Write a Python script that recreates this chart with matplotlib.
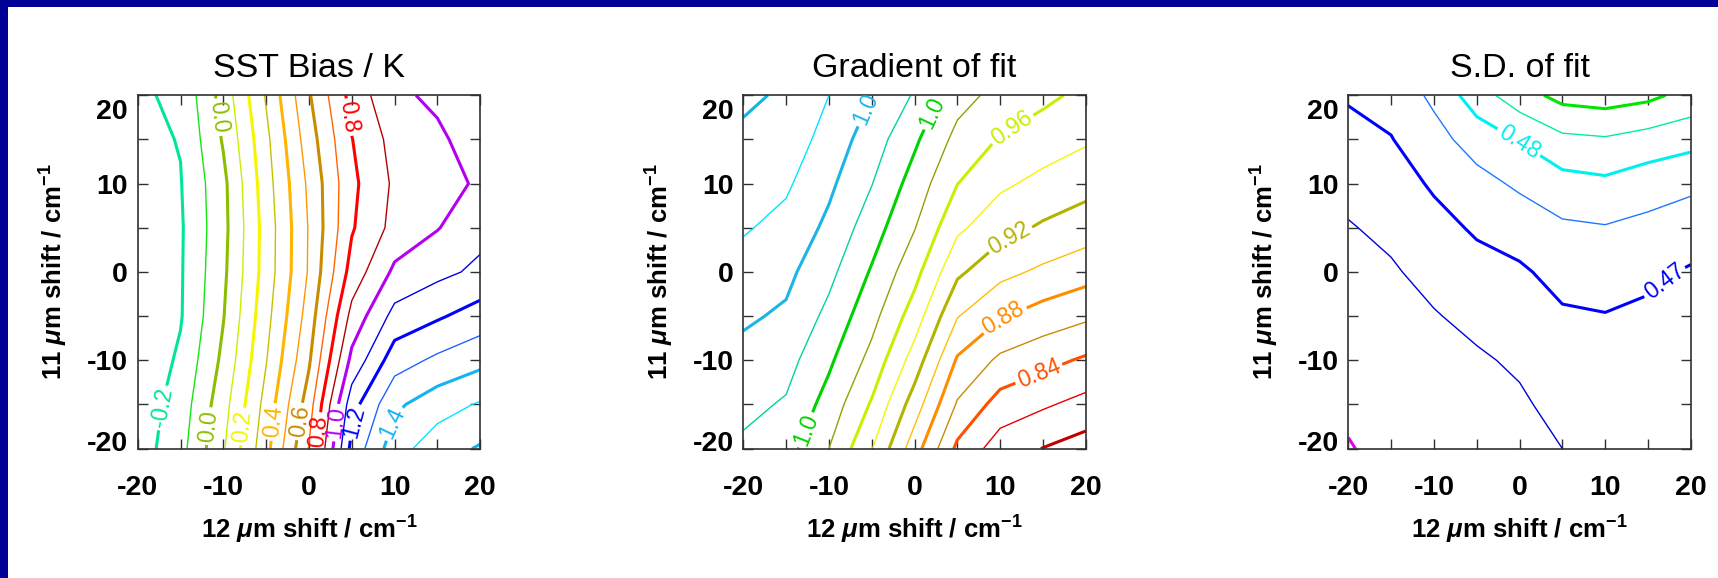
import matplotlib
matplotlib.use("Agg")
import numpy as np
import matplotlib.pyplot as plt
import matplotlib.transforms as mtransforms
from matplotlib.patches import Rectangle

plt.rcParams['font.family'] = 'Liberation Sans'
plt.rcParams['axes.unicode_minus'] = False
plt.rcParams['mathtext.fontset'] = 'custom'
plt.rcParams['mathtext.rm'] = 'Liberation Sans:bold'
plt.rcParams['mathtext.it'] = 'Liberation Sans:italic:bold'

# channel shifts in cm^-1 (grid of the retrieval runs)
shift_12 = [-20, -15, -10, -5, 0, 5, 10, 15, 20]
shift_11 = [-20, -15, -10, -5, 0, 5, 10, 15, 20]

# one row per 11um shift (from -20 up to +20), one column per 12um shift
sst_bias = [
    [-0.25, -0.134, 0.089, 0.367, 0.706, 1.231, 1.457, 1.557, 1.61],
    [-0.26, -0.155, 0.061, 0.335, 0.650, 1.160, 1.380, 1.456, 1.51],
    [-0.28, -0.183, 0.023, 0.295, 0.586, 1.028, 1.255, 1.320, 1.37],
    [-0.26, -0.208, -0.005, 0.267, 0.543, 0.932, 1.133, 1.187, 1.245],
    [-0.26, -0.210, -0.021, 0.245, 0.510, 0.840, 1.020, 1.075, 1.12],
    [-0.26, -0.212, -0.030, 0.242, 0.507, 0.790, 0.932, 0.995, 1.07],
    [-0.25, -0.205, -0.025, 0.257, 0.520, 0.777, 0.917, 0.960, 1.015],
    [-0.23, -0.195, 0.010, 0.276, 0.553, 0.797, 0.936, 0.985, 1.04],
    [-0.215, -0.180, 0.040, 0.310, 0.590, 0.834, 0.984, 1.016, 1.04],
]

fit_gradient = [
    [1.0165, 1.008, 0.980, 0.941, 0.889, 0.8356, 0.810, 0.7995, 0.791],
    [1.025, 1.018, 0.992, 0.9578, 0.9102, 0.8578, 0.8317, 0.8227, 0.8136],
    [1.034, 1.027, 1.0036, 0.9737, 0.9312, 0.8776, 0.8559, 0.8463, 0.8371],
    [1.043, 1.037, 1.0147, 0.9867, 0.9504, 0.901, 0.8819, 0.8714, 0.8635],
    [1.052, 1.045, 1.0253, 0.998, 0.9667, 0.9238, 0.9056, 0.8962, 0.8881],
    [1.062, 1.054, 1.0355, 1.0093, 0.9809, 0.9439, 0.9273, 0.9172, 0.9096],
    [1.069, 1.063, 1.044, 1.0206, 0.9917, 0.9603, 0.9436, 0.9346, 0.927],
    [1.076, 1.072, 1.052, 1.030, 1.0035, 0.974, 0.9585, 0.950, 0.9425],
    [1.084, 1.077, 1.060, 1.040, 1.018, 0.9877, 0.9734, 0.9647, 0.955],
]

fit_sd = [
    [0.4598, 0.4610, 0.4620, 0.4630, 0.4640, 0.4650, 0.4662, 0.4658, 0.4655],
    [0.4606, 0.4616, 0.4626, 0.4636, 0.4643, 0.4665, 0.4673, 0.4669, 0.4663],
    [0.4614, 0.4624, 0.4634, 0.4644, 0.4657, 0.4679, 0.4685, 0.4680, 0.4672],
    [0.4627, 0.4637, 0.4647, 0.4662, 0.4675, 0.4694, 0.4698, 0.4691, 0.4680],
    [0.4635, 0.4645, 0.4664, 0.4684, 0.4693, 0.4716, 0.4722, 0.4710, 0.4695],
    [0.4647, 0.4660, 0.4685, 0.4706, 0.4722, 0.4742, 0.4747, 0.4737, 0.4725],
    [0.4663, 0.4679, 0.4706, 0.4734, 0.4758, 0.4782, 0.4790, 0.4773, 0.4760],
    [0.4684, 0.4698, 0.4733, 0.4771, 0.4803, 0.4839, 0.4845, 0.4830, 0.4816],
    [0.4705, 0.4718, 0.4760, 0.4827, 0.4879, 0.4916, 0.4924, 0.4912, 0.4883],
]

# every other level is drawn heavy and may carry a label
bias_levels = [-0.2, -0.1, 0.0, 0.1, 0.2, 0.3, 0.4, 0.5, 0.6, 0.7, 0.8, 0.9,
               1.0, 1.1, 1.2, 1.3, 1.4, 1.5, 1.6]
gradient_levels = [0.80, 0.82, 0.84, 0.86, 0.88, 0.90, 0.92, 0.94, 0.96,
                   0.98, 1.00, 1.02, 1.04, 1.06, 1.08]
sd_levels = [0.46, 0.465, 0.47, 0.475, 0.48, 0.485, 0.49]

# rough label spots (x, y in shift units); each snaps to the nearest heavy line
bias_label_pos = [(-16.3, -15.5), (-11.3, -17.5), (-10.7, 17.5), (-7.7, -17.5),
                  (-4.1, -17.0), (-0.6, -17.0), (1.0, -18.0), (4.5, 17.5),
                  (2.7, -17.0), (5.2, -17.0), (9.5, -17.0)]
gradient_label_pos = [(-4.2, 17.8), (2.2, 18.0), (-12.4, -18.0), (11.5, 16.0),
                      (11.0, 4.0), (10.3, -5.0), (14.3, -11.0)]
sd_label_pos = [(-0.3, 14.4), (17.5, -1.8)]

bias_colors = ['#00e696', '#14e614', '#8cbe00', '#c8f000', '#f5f500', '#c8be00',
               '#ffb400', '#ff9600', '#c88c00', '#ff6400', '#ff0000', '#b40000',
               '#b400f0', '#0000e6', '#0000ff', '#1e64ff', '#14b4f0', '#00e6ff',
               '#14b4e6']
gradient_colors = ['#c00000', '#e60000', '#ff5000', '#c88c00', '#ff8c00',
                   '#ffbe00', '#b4b400', '#f5f500', '#c8f000', '#96a000',
                   '#00d200', '#00d2a0', '#1eb4e6', '#00e6ff', '#14b4e6']
sd_colors = ['#e600e6', '#0000dc', '#0000ff', '#1e78ff', '#00f0f0', '#00f096',
             '#00e600']

panels = [
    ('SST Bias / K', sst_bias, bias_levels, bias_colors, bias_label_pos,
     lambda v: '%.1f' % v),
    ('Gradient of fit', fit_gradient, gradient_levels, gradient_colors,
     gradient_label_pos, lambda v: '%#.2g' % v),
    ('S.D. of fit', fit_sd, sd_levels, sd_colors, sd_label_pos,
     lambda v: '%.2f' % v),
]

W, H = 1718, 578
fig = plt.figure(figsize=(W / 100, H / 100), dpi=100)
fig.patch.set_facecolor('white')

# dark blue slide frame on the left and top
fig.add_artist(Rectangle((0, 0), 8 / W, 1, transform=fig.transFigure,
                         facecolor='#000096', edgecolor='none'))
fig.add_artist(Rectangle((0, 1 - 7 / H), 1, 7 / H, transform=fig.transFigure,
                         facecolor='#000096', edgecolor='none'))

lefts = [137.7, 743.3, 1348.3]
X, Y = np.meshgrid(shift_12, shift_11)

for left, (title, field, levels, colors, lab_pos, fmt) in zip(lefts, panels):
    ax = fig.add_axes([left / W, 129.4 / H, 342.5 / W, 353.3 / H])
    Z = np.array(field)
    ax.contour(X, Y, Z, levels=levels[1::2], colors=colors[1::2],
               linewidths=1.0)
    cs = ax.contour(X, Y, Z, levels=levels[0::2], colors=colors[0::2],
                    linewidths=2.2)
    ax.clabel(cs, manual=lab_pos, inline=True, fmt=fmt, fontsize=16.5,
              inline_spacing=3)

    ax.set_xlim(-20, 20)
    ax.set_ylim(-20, 20)
    ax.set_xticks([-20, -10, 0, 10, 20])
    ax.set_yticks([-20, -10, 0, 10, 20])
    ax.set_xticks([-15, -5, 5, 15], minor=True)
    ax.set_yticks([-15, -5, 5, 15], minor=True)
    ax.tick_params(which='both', direction='in', top=True, right=True,
                   length=7, width=1, color='#303030')
    ax.tick_params(axis='x', pad=19, labelsize=20.5)
    ax.tick_params(axis='y', pad=7, labelsize=20.5)
    for lab in ax.get_xticklabels() + ax.get_yticklabels():
        lab.set_fontweight('bold')
    for sp in ax.spines.values():
        sp.set_linewidth(1.2)
        sp.set_color('#303030')

    # end labels sit inside the axis range
    yticks = ax.yaxis.get_major_ticks()
    yticks[-1].label1.set_transform(yticks[-1].label1.get_transform() +
                                    mtransforms.ScaledTranslation(0, -14 / 100, fig.dpi_scale_trans))
    yticks[0].label1.set_transform(yticks[0].label1.get_transform() +
                                   mtransforms.ScaledTranslation(0, 8 / 100, fig.dpi_scale_trans))

    ax.set_title(title, fontsize=24.5, pad=13)
    ax.set_xlabel(r'12 $\mu$m shift / cm$^{-1}$', fontsize=18.5,
                  fontweight='bold', labelpad=9)
    ax.set_ylabel(r'11 $\mu$m shift / cm$^{-1}$', fontsize=18.5,
                  fontweight='bold', labelpad=12)

fig.savefig('out.png', dpi=100)
